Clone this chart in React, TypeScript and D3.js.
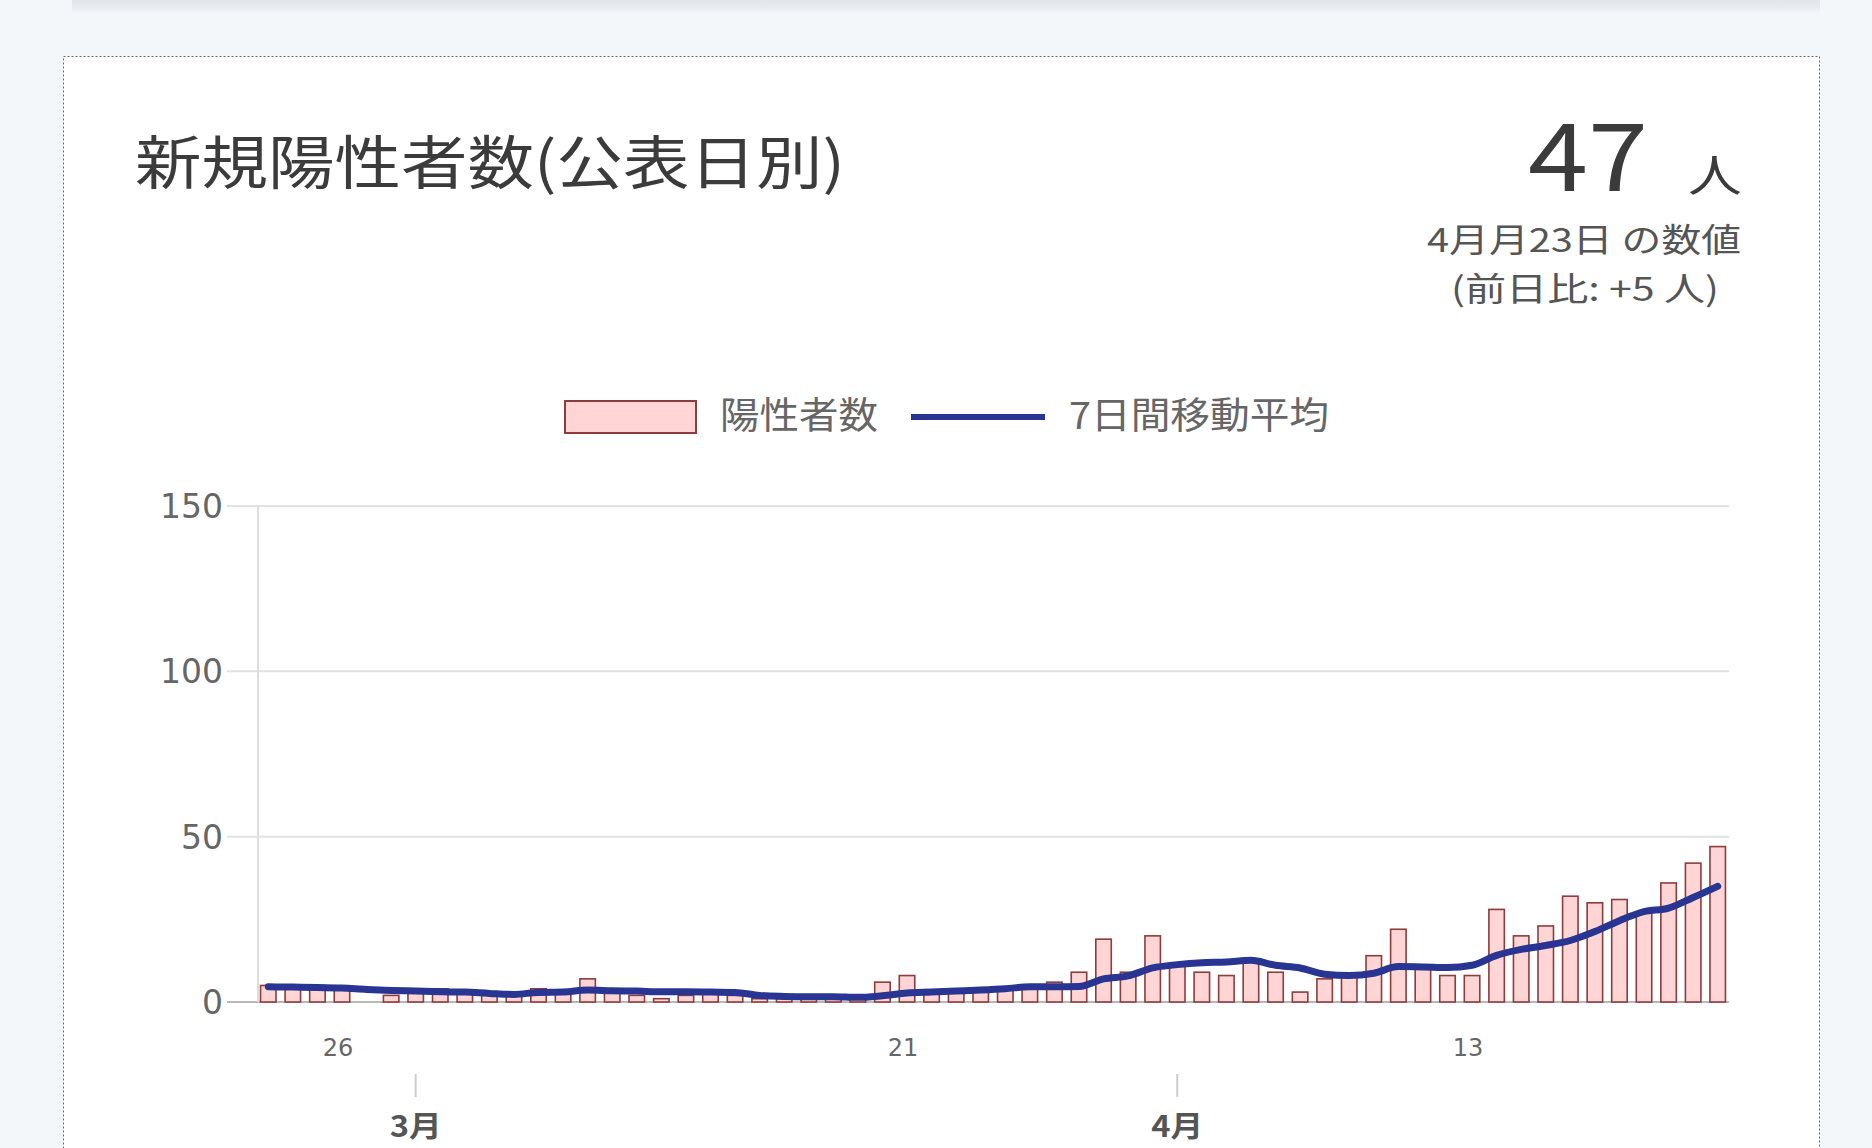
import React from 'react';
import * as d3 from 'd3';

const dates = [
  "02-23","02-24","02-25","02-26","02-27","02-28",
  "03-01","03-02","03-03","03-04","03-05","03-06","03-07","03-08","03-09","03-10",
  "03-11","03-12","03-13","03-14","03-15","03-16","03-17","03-18","03-19","03-20",
  "03-21","03-22","03-23","03-24","03-25","03-26","03-27","03-28","03-29","03-30","03-31",
  "04-01","04-02","04-03","04-04","04-05","04-06","04-07","04-08","04-09","04-10",
  "04-11","04-12","04-13","04-14","04-15","04-16","04-17","04-18","04-19","04-20",
  "04-21","04-22","04-23"
];

const positives = [
  5, 4, 5, 4, 0, 2,
  3, 4, 3, 2, 2, 4, 3, 7, 3, 2,
  1, 2, 3, 2, 1, 1, 1, 1, 1, 6,
  8, 3, 3, 3, 4, 5, 6, 9, 19, 9, 20,
  11, 9, 8, 12, 9, 3, 7, 8, 14, 22,
  11, 8, 8, 28, 20, 23, 32, 30, 31, 27,
  36, 42, 47
];

const movingAvg = [
  4.6, 4.5, 4.4, 4.2, 3.8, 3.5,
  3.3, 3.1, 3.0, 2.6, 2.3, 2.9, 3.0, 3.6, 3.4, 3.3,
  3.1, 3.1, 3.0, 2.9, 2.0, 1.7, 1.6, 1.6, 1.4, 1.9,
  2.7, 3.0, 3.3, 3.6, 4.0, 4.6, 4.6, 4.7, 7.0, 7.9, 10.3,
  11.3, 11.9, 12.1, 12.6, 11.1, 10.3, 8.4, 8.0, 8.7, 10.7,
  10.6, 10.4, 11.1, 14.1, 15.9, 17.1, 18.6, 21.3, 24.6, 27.3,
  28.4, 31.6, 35.0
];

const yTicks = [0, 50, 100, 150];
const dayTickDates = ["02-26", "03-21", "04-13"];
const dayTickLabels = ["26", "21", "13"];
const monthTickDates = ["03-01", "04-01"];
const monthTickLabels = ["3月", "4月"];

const titleText = "新規陽性者数(公表日別)";
const bigValue = "47";
const unitText = "人";
const dateNote = "4月月23日 の数値";
const diffNote = "(前日比: +5 人)";
const legendBar = "陽性者数";
const legendLine = "7日間移動平均";

const JP = '"Noto Sans CJK JP", "Noto Sans", sans-serif';
const NUM = '"DejaVu Sans", sans-serif';

export default function App() {
  const W = 1872;
  const H = 1148;

  const x = d3
    .scaleBand<string>()
    .domain(dates)
    .range([256, 1730])
    .paddingInner(0.37)
    .paddingOuter(0.185);
  const y = d3.scaleLinear().domain([0, 150]).range([1002, 506]);
  const cx = (d: string) => (x(d) as number) + x.bandwidth() / 2;

  const linePath = d3
    .line<number>()
    .x((_, i) => cx(dates[i]))
    .y((d) => y(d))
    .curve(d3.curveMonotoneX)(movingAvg) as string;

  const barFill = "#ffd5d5";
  const barStroke = "#8e3b3b";
  const lineColor = "#283593";
  const sg = "spacingAndGlyphs";

  return (
    <svg
      width={W}
      height={H}
      style={{ position: 'absolute', left: 0, top: 0, display: 'block' }}
    >
      <defs>
        <linearGradient id="topShade" x1="0" y1="0" x2="0" y2="1">
          <stop offset="0" stopColor="#e2e5e9" />
          <stop offset="0.5" stopColor="#e8ebee" />
          <stop offset="1" stopColor="#f4f7fa" />
        </linearGradient>
      </defs>
      <rect x={0} y={0} width={W} height={H} fill="#f4f7fa" />
      <rect x={72} y={0} width={1748} height={14} fill="url(#topShade)" />
      {/* card */}
      <rect
        x={63.5}
        y={56.5}
        width={1756}
        height={H}
        fill="#ffffff"
        stroke="#6a6a6a"
        strokeWidth={1}
        strokeDasharray="2,2"
      />

      {/* header */}
      <text x={135} y={184} fontFamily={JP} fontSize={58} fill="#3b3b3b" textLength={710} lengthAdjust={sg}>
        {titleText}
      </text>
      <text x={1528} y={191} fontFamily={JP} fontSize={94} fill="#3b3b3b" textLength={120} lengthAdjust={sg}>
        {bigValue}
      </text>
      <text x={1688} y={192} fontFamily={JP} fontSize={44} fill="#3b3b3b" textLength={54} lengthAdjust={sg}>
        {unitText}
      </text>
      <text x={1427} y={252} fontFamily={JP} fontSize={33} fill="#555555" textLength={314} lengthAdjust={sg}>
        {dateNote}
      </text>
      <text x={1451} y={301} fontFamily={JP} fontSize={33} fill="#555555" textLength={268} lengthAdjust={sg}>
        {diffNote}
      </text>

      {/* legend */}
      <rect x={565} y={401} width={131} height={32} fill={barFill} stroke={barStroke} strokeWidth={2} />
      <text x={720} y={429} fontFamily={JP} fontSize={37} fill="#666666" textLength={158} lengthAdjust={sg}>
        {legendBar}
      </text>
      <line x1={911} x2={1045} y1={417} y2={417} stroke={lineColor} strokeWidth={6} />
      <text x={1069} y={429} fontFamily={JP} fontSize={37} fill="#666666" textLength={260} lengthAdjust={sg}>
        {legendLine}
      </text>

      {/* grid */}
      {yTicks.map((t) => (
        <g key={t}>
          <line
            x1={227}
            x2={1729}
            y1={y(t)}
            y2={y(t)}
            stroke={t === 0 ? "#b8b8b8" : "#e2e2e2"}
            strokeWidth={2}
          />
          <text
            x={223}
            y={y(t) + 12}
            textAnchor="end"
            fontFamily={NUM}
            fontSize={33}
            fill="#666666"
          >
            {t}
          </text>
        </g>
      ))}
      <line x1={258} x2={258} y1={y(150)} y2={y(0)} stroke="#dddddd" strokeWidth={2} />

      {/* bars */}
      {dates.map((d, i) => (
        <rect
          key={d}
          x={x(d) as number}
          y={y(positives[i])}
          width={x.bandwidth()}
          height={y(0) - y(positives[i])}
          fill={barFill}
          stroke={barStroke}
          strokeWidth={1.6}
        />
      ))}

      {/* moving average */}
      <path d={linePath} fill="none" stroke={lineColor} strokeWidth={7} strokeLinejoin="round" strokeLinecap="round" />

      {/* x axis */}
      {dayTickDates.map((d, i) => (
        <text
          key={d}
          x={cx(d) - 4}
          y={1056}
          textAnchor="middle"
          fontFamily={NUM}
          fontSize={24}
          fill="#666666"
        >
          {dayTickLabels[i]}
        </text>
      ))}
      {monthTickDates.map((d, i) => (
        <g key={d}>
          <line x1={cx(d)} x2={cx(d)} y1={1074} y2={1097} stroke="#cccccc" strokeWidth={2} />
          <text
            x={cx(d)}
            y={1137}
            textAnchor="middle"
            fontFamily={JP}
            fontSize={29}
            fontWeight="bold"
            fill="#555555"
            textLength={52}
            lengthAdjust={sg}
          >
            {monthTickLabels[i]}
          </text>
        </g>
      ))}
    </svg>
  );
}
